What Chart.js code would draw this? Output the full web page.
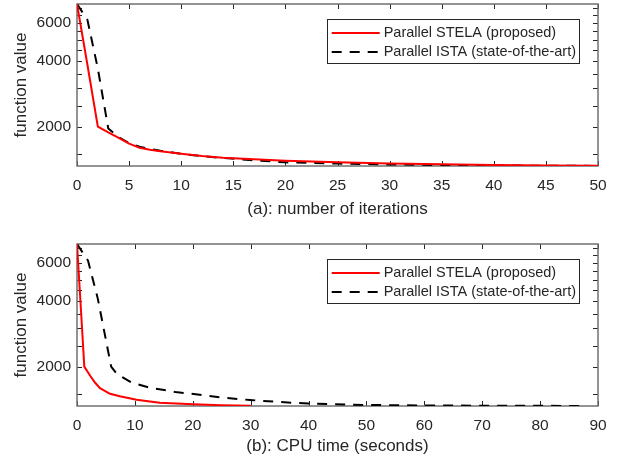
<!DOCTYPE html>
<html>
<head>
<meta charset="UTF-8">
<title>STELA vs ISTA</title>
<script src="https://cdn.jsdelivr.net/npm/chart.js"></script>
<style>
  body { margin: 0; background: #fff; }
  canvas { display: block; }
</style>
</head>
<body>
<canvas id="chartIter" width="622" height="232"></canvas>
<canvas id="chartTime" width="622" height="232"></canvas>
<script>
// (a) function value vs number of iterations
const iterations = [0, 1, 2, 3, 4, 5, 6, 7, 8, 10, 12, 14, 17, 20, 25, 30, 35, 40, 45, 50];
const stelaByIter = [7330, 3850, 2000, 1880, 1775, 1670, 1600, 1565, 1540, 1500, 1465, 1440, 1415, 1395, 1370, 1355, 1343, 1333, 1325, 1320];
const istaByIter = [7330, 6200, 3700, 1960, 1790, 1680, 1615, 1580, 1550, 1500, 1462, 1435, 1400, 1370, 1352, 1340, 1331, 1326, 1322, 1319];

// (b) function value vs CPU time (seconds)
const stelaTime = [0, 0.63, 1.26, 2.25, 3.1, 3.97, 5.7, 7.4, 10.3, 12.6, 14.3, 20, 25, 30];
const stelaByTime = [7330, 3850, 2000, 1820, 1690, 1592, 1500, 1460, 1408, 1382, 1365, 1344, 1330, 1320];
const istaTime = [0, 1.9, 3.6, 5.9, 6.9, 9.4, 12.6, 17, 21.2, 25, 29.9, 35, 40, 47, 55, 65, 75, 87];
const istaByTime = [7330, 6150, 4100, 2000, 1850, 1690, 1600, 1530, 1484, 1440, 1404, 1375, 1352, 1336, 1328, 1324, 1321, 1319];

const yTicks = [1500, 2000, 2500, 3000, 3500, 4000, 4500, 5000, 5500, 6000, 6500, 7000];
const yLabels = [2000, 4000, 6000];
const yMin = 1318, yMax = 7330;

const labelStela = 'Parallel STELA (proposed)';
const labelIsta = 'Parallel ISTA (state-of-the-art)';

const FONT = 'Liberation Sans, Arial, Helvetica, sans-serif';
const TXT = '#262626';

function pts(xs, ys) {
  return xs.map((x, i) => ({ x: x, y: ys[i] }));
}

// box + inward ticks like matlab axes
const frameTicks = {
  id: 'frameTicks',
  beforeDatasetsDraw(chart) {
    const ctx = chart.ctx;
    const a = chart.chartArea;
    const xs = chart.scales.x, ys = chart.scales.y;
    const len = 5;
    ctx.save();
    ctx.strokeStyle = '#262626';
    ctx.lineWidth = 1;
    ctx.beginPath();
    xs.ticks.forEach(t => {
      const px = Math.round(xs.getPixelForValue(t.value)) + 0.5;
      ctx.moveTo(px, a.bottom); ctx.lineTo(px, a.bottom - len);
      ctx.moveTo(px, a.top); ctx.lineTo(px, a.top + len);
    });
    ys.ticks.forEach(t => {
      const py = Math.round(ys.getPixelForValue(t.value)) + 0.5;
      ctx.moveTo(a.left, py); ctx.lineTo(a.left + len, py);
      ctx.moveTo(a.right, py); ctx.lineTo(a.right - len, py);
    });
    ctx.stroke();
    ctx.strokeStyle = '#707070';
    ctx.lineWidth = 1.5;
    ctx.strokeRect(a.left, a.top, a.right - a.left, a.bottom - a.top);
    ctx.restore();
  }
};

// legend drawn inside the axes, top right
const innerLegend = {
  id: 'innerLegend',
  afterDatasetsDraw(chart) {
    const ctx = chart.ctx;
    const a = chart.chartArea;
    const sets = chart.data.datasets;
    ctx.save();
    ctx.font = '14.5px ' + FONT;
    let w = 0;
    sets.forEach(d => { w = Math.max(w, ctx.measureText(d.label).width); });
    const bw = 57 + w + 3, bh = 44;
    const bx = a.right - 19 - bw, by = a.top + 15;
    ctx.fillStyle = '#fff';
    ctx.fillRect(bx, by, bw, bh);
    ctx.strokeStyle = '#262626';
    ctx.lineWidth = 1;
    ctx.strokeRect(Math.round(bx) + 0.5, Math.round(by) + 0.5, Math.round(bw), bh);
    sets.forEach((d, i) => {
      const cy = by + 14 + i * 19;
      ctx.strokeStyle = d.borderColor;
      ctx.lineWidth = d.borderWidth;
      ctx.setLineDash(d.borderDash || []);
      ctx.beginPath();
      ctx.moveTo(bx + 5, cy); ctx.lineTo(bx + 53, cy);
      ctx.stroke();
      ctx.setLineDash([]);
      ctx.fillStyle = TXT;
      ctx.textBaseline = 'middle';
      ctx.fillText(d.label, bx + 57, cy);
    });
    ctx.restore();
  }
};

function makeChart(id, xMax, xStep, xTitle, stela, ista, padTop, xHeight, titlePad) {
  return new Chart(document.getElementById(id), {
    type: 'line',
    data: {
      datasets: [
        { label: labelStela, data: stela, borderColor: '#ff0000', borderWidth: 2, pointRadius: 0, tension: 0, fill: false },
        { label: labelIsta, data: ista, borderColor: '#000000', borderWidth: 2, borderDash: [10, 8], pointRadius: 0, tension: 0, fill: false }
      ]
    },
    options: {
      responsive: false,
      animation: false,
      layout: { padding: { left: 0, right: 24, top: padTop, bottom: 0 } },
      plugins: { legend: { display: false }, tooltip: { enabled: false } },
      scales: {
        x: {
          type: 'linear', min: 0, max: xMax,
          grid: { display: false, drawTicks: false },
          border: { display: false },
          ticks: { stepSize: xStep, padding: 10, color: TXT, font: { family: FONT, size: 15.5 }, maxRotation: 0 },
          title: { display: true, text: xTitle, color: TXT, font: { family: FONT, size: 17 }, padding: { top: 0, bottom: titlePad } },
          afterFit: s => { s.height = xHeight; s.paddingLeft = 0; s.paddingRight = 0; }
        },
        y: {
          type: 'logarithmic', min: yMin, max: yMax,
          grid: { display: false, drawTicks: false },
          border: { display: false },
          afterBuildTicks: s => { s.ticks = yTicks.map(v => ({ value: v })); },
          ticks: { autoSkip: false, padding: 6, color: TXT, font: { family: FONT, size: 15.5 },
            callback: v => yLabels.includes(v) ? String(v) : '' },
          title: { display: true, text: 'function value', color: TXT, font: { family: FONT, size: 17 }, padding: { top: 11, bottom: 0 } },
          afterFit: s => { s.width = 77; s.paddingTop = 0; s.paddingBottom = 0; }
        }
      }
    },
    plugins: [frameTicks, innerLegend]
  });
}

makeChart('chartIter', 50, 5, '(a): number of iterations',
  pts(iterations, stelaByIter), pts(iterations, istaByIter), 4, 66, 12);
makeChart('chartTime', 90, 10, '(b): CPU time (seconds)',
  pts(stelaTime, stelaByTime), pts(istaTime, istaByTime), 12, 58, 7);
</script>
</body>
</html>
